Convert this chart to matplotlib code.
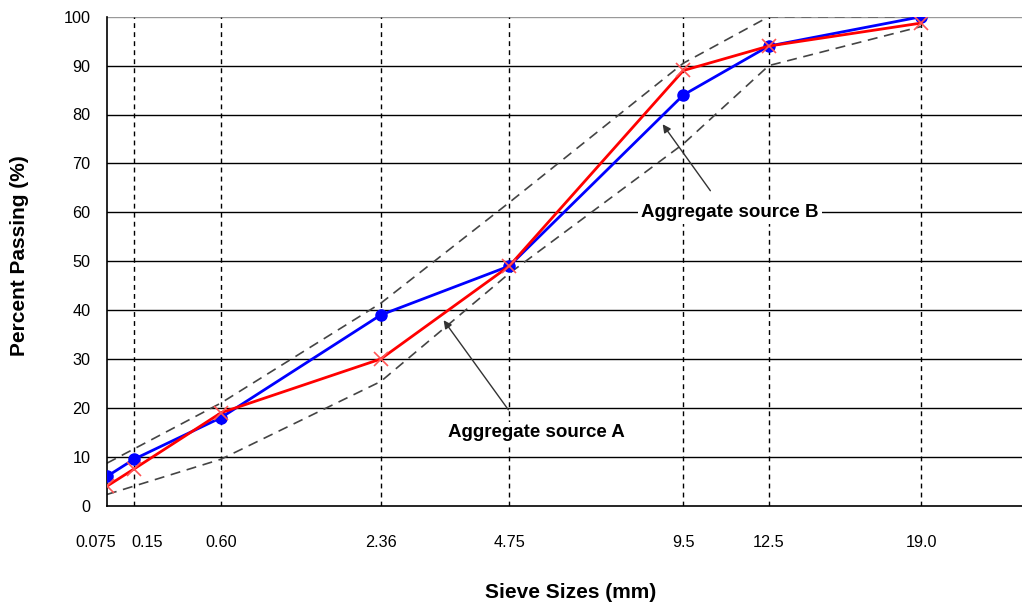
import matplotlib
matplotlib.use("Agg")
import matplotlib.pyplot as plt
import matplotlib.transforms as mtransforms
import numpy as np

# sieve sizes (mm) and percent passing
sieves = [0.075, 0.15, 0.60, 2.36, 4.75, 9.5, 12.5, 19.0]
sieve_labels = ["0.075", "0.15", "0.60", "2.36", "4.75", "9.5", "12.5", "19.0"]
source_b = [6, 9.5, 18, 39, 49, 84, 94, 100]
source_a = [4, 7.5, 19, 30, 49, 89, 94, 98.7]

# specification band
upper_sieves = [0.075, 0.60, 2.36, 4.75, 9.5, 12.5, 19.0]
upper_limit = [8.7, 21, 41.4, 62, 90.5, 100, 100]
lower_sieves = [0.075, 0.60, 2.36, 4.75, 9.5, 12.5, 19.0]
lower_limit = [2.3, 9.5, 25.4, 47.5, 74, 90, 98]

y_ticks = list(range(0, 101, 10))

plt.rcParams['font.family'] = ['Liberation Sans', 'DejaVu Sans']

fig = plt.figure(figsize=(10.22, 6.03), dpi=100)
ax = fig.add_axes([107 / 1022, 1 - 505.7 / 603, 915 / 1022, 489 / 603])

p = 0.45
ax.set_xscale('function', functions=(lambda x: np.power(np.clip(x, 0, None), p),
                                     lambda x: np.power(np.clip(x, 0, None), 1 / p)))
ax.set_xlim(0.075, (0.075 ** p + 915 / 236) ** (1 / p))
ax.set_ylim(0, 100)

# grid
for v in y_ticks[1:-1]:
    ax.axhline(v, color='black', lw=1, zorder=1)
ax.axhline(100, color='#999999', lw=1, zorder=1)
for s in sieves[1:]:
    ax.axvline(s, color='black', lw=1, ls=(0, (3.5, 3)), zorder=1)

# spec limits
ax.plot(upper_sieves, upper_limit, color='#444444', lw=1.2, ls=(0, (6, 4)), zorder=2)
ax.plot(lower_sieves, lower_limit, color='#444444', lw=1.2, ls=(0, (6, 4)), zorder=2)

# gradations
ax.plot(sieves, source_b, color='#0000ff', lw=2, marker='o', ms=8, zorder=3)
ax.plot(sieves, source_a, color='#ff0000', lw=2, marker='x', ms=10,
        mec='#ff5555', mew=1.2, zorder=4)

for sp in ['top', 'right']:
    ax.spines[sp].set_visible(False)
ax.spines['left'].set_linewidth(1.2)
ax.spines['bottom'].set_linewidth(1.2)

ax.set_yticks(y_ticks)
ax.set_xticks(sieves)
ax.set_xticklabels(sieve_labels)
ax.xaxis.set_minor_locator(matplotlib.ticker.NullLocator())
ax.tick_params(axis='both', length=0, labelsize=11.7)
ax.tick_params(axis='x', pad=21)
ax.tick_params(axis='y', pad=12)

# nudge the two crowded labels apart
labels = ax.get_xticklabels()
shifts = {0: -11, 1: 13}
for i, dx in shifts.items():
    off = mtransforms.ScaledTranslation(dx / 100, 0, fig.dpi_scale_trans)
    labels[i].set_transform(labels[i].get_transform() + off)

fig.text(20 / 1022, 1 - 256 / 603, "Percent Passing (%)", rotation=90,
         ha='center', va='center', fontsize=15, fontweight='bold')
fig.text(571 / 1022, 1 - 593 / 603, "Sieve Sizes (mm)",
         ha='center', va='center', fontsize=15, fontweight='bold')

arrow = dict(arrowstyle='-|>', color='#333333', lw=1, mutation_scale=12)
ax.annotate('', xy=(0.6055, 0.7847), xytext=(0.6612, 0.6395),
            xycoords='axes fraction', arrowprops=arrow, zorder=5)
ax.annotate('', xy=(0.3661, 0.3839), xytext=(0.4404, 0.1916),
            xycoords='axes fraction', arrowprops=arrow, zorder=5)
ax.text(0.6809, 0.5986, "Aggregate source B", transform=ax.transAxes,
        ha='center', va='center', fontsize=13.5, fontweight='bold', zorder=6,
        bbox=dict(facecolor='white', edgecolor='none', pad=2))
ax.text(0.4689, 0.1487, "Aggregate source A", transform=ax.transAxes,
        ha='center', va='center', fontsize=13.5, fontweight='bold', zorder=6,
        bbox=dict(facecolor='white', edgecolor='none', pad=2))

fig.savefig("out.png", dpi=100)
